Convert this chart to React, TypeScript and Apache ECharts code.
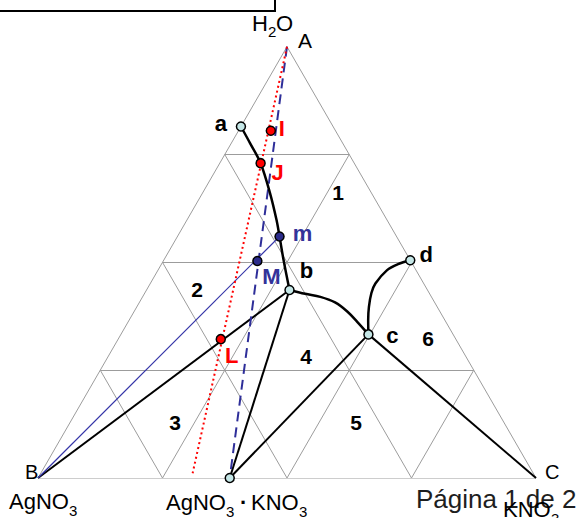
import { useEffect, useRef } from "react";
import * as echarts from "echarts";

// Compositions are [H2O %, AgNO3 %, KNO3 %]
const vertexA = [100, 0, 0];
const vertexB = [0, 100, 0];
const vertexC = [0, 0, 100];
const gridLevels = [25, 50, 75];

const curveAB = [
  [81.5, 18.5, 0], [77.6, 18.6, 3.8], [73.0, 18.8, 8.2], [66.0, 20.4, 13.6],
  [59.8, 22.2, 18.0], [56.0, 23.5, 20.5], [50.6, 25.4, 24.0], [43.6, 27.7, 28.7],
];
const curveBC = [
  [43.6, 27.7, 28.7], [42.7, 25.0, 32.3], [42.0, 22.3, 35.7], [40.7, 20.0, 39.3],
  [38.6, 18.6, 42.8], [36.2, 17.8, 46.0], [33.3, 17.0, 49.7],
];
const curveCD = [
  [33.3, 17.0, 49.7], [36.6, 15.4, 48.0], [39.7, 13.7, 46.6], [42.9, 11.6, 45.5],
  [45.1, 9.7, 45.2], [48.2, 5.8, 46.0], [49.6, 2.9, 47.5], [50.5, 0, 49.5],
];

const pointA = [81.5, 18.5, 0];
const pointB = [43.6, 27.7, 28.7];
const pointC = [33.3, 17.0, 49.7];
const pointD = [50.5, 0, 49.5];
const doubleSalt = [0, 61.5, 38.5];

const satLabels = ["a", "b", "c", "d", ""];
const satPoints = [pointA, pointB, pointC, pointD, doubleSalt];

const redLabels = ["I", "J", "L"];
const redPoints = [[80.5, 13.0, 6.5], [73.0, 18.8, 8.2], [32.2, 47.2, 20.6]];

const blueLabels = ["m", "M"];
const bluePoints = [[56.0, 23.5, 20.5], [50.3, 30.8, 18.9]];

const redLineEnd = [1.1, 68.4, 30.5];

const regionLabels = ["1", "2", "3", "4", "5", "6"];

const SQ = Math.sqrt(3) / 2;
const toXY = (p: number[]) => [(p[2] + p[0] / 2) / 100, (p[0] / 100) * SQ];

const FONT = "'Liberation Sans', Arial, sans-serif";

export default function App() {
  const ref = useRef<HTMLDivElement>(null);
  useEffect(() => {
    if (!ref.current) return;
    const chart = echarts.init(ref.current, null, { renderer: "svg" });

    const gridSegs: number[][][] = [
      [vertexA, vertexB], [vertexB, vertexC], [vertexC, vertexA],
    ];
    gridLevels.forEach((k) => {
      gridSegs.push([[k, 100 - k, 0], [k, 0, 100 - k]]);
      gridSegs.push([[0, k, 100 - k], [100 - k, k, 0]]);
      gridSegs.push([[0, 100 - k, k], [100 - k, 0, k]]);
    });

    const tieLines = [
      [pointB, doubleSalt], [pointB, vertexB], [pointC, doubleSalt], [pointC, vertexC],
    ];

    const satOffsets = [[-20, -3], [17, -19], [24, 1], [16, -6], [0, 0]];
    const redOffsets = [[11, -2], [17, 9], [11, 16]];
    const blueOffsets = [[23, -3], [14, 15]];
    const regionPos = [[338, 192], [197, 289], [175, 422], [306, 356], [356, 422], [428, 338]];

    const labelStyle = (color: string) => ({
      show: true,
      position: "inside" as const,
      color,
      fontSize: 22,
      fontWeight: "bold" as const,
      fontFamily: FONT,
      align: "center" as const,
      verticalAlign: "middle" as const,
    });

    const txt = (text: string, x: number, y: number, fontSize: number, extra: any = {}) => ({
      type: "text",
      x,
      y,
      silent: true,
      style: {
        text,
        fontSize,
        fontFamily: FONT,
        fill: "#000",
        textAlign: "left",
        textVerticalAlign: "middle",
        ...extra,
      },
    });

    const curve = (pts: number[][]) => ({
      type: "line",
      data: pts.map(toXY),
      smooth: 0.35,
      symbol: "none",
      lineStyle: { color: "#000", width: 2.5 },
      z: 4,
      silent: true,
    });

    chart.setOption({
      animation: false,
      grid: { left: 38, top: 46, width: 498, height: 432, show: false },
      xAxis: { type: "value", min: 0, max: 1, show: false },
      yAxis: { type: "value", min: 0, max: 432 / 498, show: false },
      series: [
        {
          type: "lines",
          coordinateSystem: "cartesian2d",
          data: gridSegs.map((s) => ({ coords: s.map(toXY) })),
          lineStyle: { color: "#9c9c9c", width: 1, opacity: 1, curveness: 0 },
          silent: true,
          z: 1,
        },
        {
          type: "lines",
          coordinateSystem: "cartesian2d",
          data: tieLines.map((s) => ({ coords: s.map(toXY) })),
          lineStyle: { color: "#000", width: 2, opacity: 1, curveness: 0 },
          silent: true,
          z: 3,
        },
        {
          type: "lines",
          coordinateSystem: "cartesian2d",
          data: [{ coords: [vertexB, bluePoints[0]].map(toXY) }],
          lineStyle: { color: "#3535a8", width: 1.2, opacity: 1, curveness: 0 },
          silent: true,
          z: 3,
        },
        {
          type: "lines",
          coordinateSystem: "cartesian2d",
          data: [{ coords: [vertexA, doubleSalt].map(toXY) }],
          lineStyle: { color: "#2e2e99", width: 2, opacity: 1, curveness: 0, type: [10, 6] },
          silent: true,
          z: 3,
        },
        {
          type: "lines",
          coordinateSystem: "cartesian2d",
          data: [{ coords: [vertexA, redLineEnd].map(toXY) }],
          lineStyle: { color: "#ff0000", width: 2, opacity: 1, curveness: 0, type: [2, 3] },
          silent: true,
          z: 3,
        },
        curve(curveAB),
        curve(curveBC),
        curve(curveCD),
        {
          type: "scatter",
          data: satPoints.map((p, i) => ({
            value: toXY(p),
            name: satLabels[i],
            label: { ...labelStyle("#000"), offset: satOffsets[i], formatter: satLabels[i] },
          })),
          symbol: "circle",
          symbolSize: 9,
          itemStyle: { color: "#c4e6e6", borderColor: "#000", borderWidth: 1.5, opacity: 1 },
          z: 6,
          silent: true,
        },
        {
          type: "scatter",
          data: redPoints.map((p, i) => ({
            value: toXY(p),
            name: redLabels[i],
            label: { ...labelStyle("#ff0000"), offset: redOffsets[i], formatter: redLabels[i] },
          })),
          symbol: "circle",
          symbolSize: 9,
          itemStyle: { color: "#ff0000", borderColor: "#000", borderWidth: 1.5, opacity: 1 },
          z: 6,
          silent: true,
        },
        {
          type: "scatter",
          data: bluePoints.map((p, i) => ({
            value: toXY(p),
            name: blueLabels[i],
            label: { ...labelStyle("#333399"), offset: blueOffsets[i], formatter: blueLabels[i] },
          })),
          symbol: "circle",
          symbolSize: 9,
          itemStyle: { color: "#2b2b8a", borderColor: "#000", borderWidth: 1.5, opacity: 1 },
          z: 6,
          silent: true,
        },
      ],
      graphic: [
        {
          type: "rect",
          silent: true,
          shape: { x: -3, y: -3, width: 278, height: 14 },
          style: { fill: "none", stroke: "#000", lineWidth: 2 },
        },
        txt("H", 252, 23, 22),
        txt("2", 268, 31, 15),
        txt("O", 276, 23, 22),
        txt("A", 298, 40, 21),
        txt("B", 25, 472, 20),
        txt("C", 545, 472, 20),
        ...regionLabels.map((t, i) =>
          txt(t, regionPos[i][0], regionPos[i][1], 21, { fontWeight: "bold", textAlign: "center" })
        ),
        txt("AgNO", 9, 501, 22),
        txt("3", 69, 510, 15),
        txt("AgNO", 166, 502, 22),
        txt("3", 226, 511, 15),
        txt("·", 240, 502, 22, { fontWeight: "bold" }),
        txt("KNO", 251, 502, 22),
        txt("3", 299, 511, 15),
        txt("Página 1 de 2", 416, 499, 26, { fill: "#1e1e1e" }),
        txt("KNO", 503, 509, 22),
        txt("3", 551, 518, 15),
      ],
    });
    return () => chart.dispose();
  }, []);
  return (
    <div
      ref={ref}
      style={{ position: "fixed", left: 0, top: 0, width: 576, height: 518, background: "#fff" }}
    />
  );
}
